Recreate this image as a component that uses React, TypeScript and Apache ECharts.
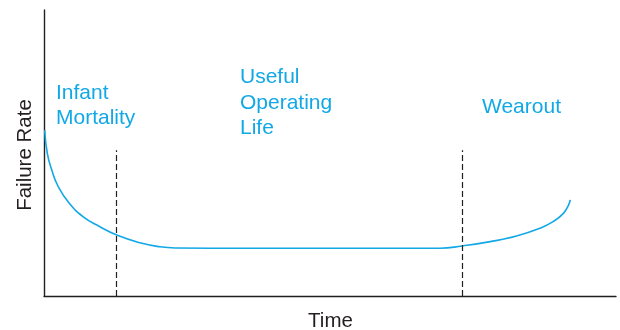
import React, { useEffect, useRef } from "react";
import * as echarts from "echarts";

// Bathtub curve: [time, failure rate] on 0..100 scales
const curvePoints: [number, number][] = [
  [0.12, 58.0],
  [0.58, 49.9],
  [1.35, 44.1],
  [2.5, 38.2],
  [4.42, 32.4],
  [6.87, 27.7],
  [9.79, 24.2],
  [12.71, 21.3],
  [16.78, 18.6],
  [20.28, 17.2],
  [23.2, 16.8],
  [35, 16.7],
  [50, 16.7],
  [62, 16.7],
  [69.2, 16.7],
  [73.1, 17.5],
  [78.0, 19.0],
  [82.6, 21.0],
  [86.7, 23.7],
  [89.0, 26.0],
  [90.8, 28.9],
  [91.7, 31.8],
  [92.0, 33.6],
];

const boundaries = [12.6, 73.1];
const boundaryTop = 51;

const regionLabels = ["Infant\nMortality", "Useful\nOperating\nLife", "Wearout"];
const yTitle = "Failure Rate";
const xTitle = "Time";

const CYAN = "#12a8e6";
const INK = "#231f20";
const FONT = "'Liberation Sans', Arial, Helvetica, sans-serif";

export default function App() {
  const ref = useRef<HTMLDivElement>(null);
  useEffect(() => {
    if (!ref.current) return;
    const chart = echarts.init(ref.current, undefined, { renderer: "svg" });
    chart.setOption({
      animation: false,
      grid: { left: 44, top: 10, right: 4, bottom: 34 },
      xAxis: {
        type: "value",
        min: 0,
        max: 100,
        axisLine: { show: true, lineStyle: { color: INK, width: 1.4 } },
        axisTick: { show: false },
        axisLabel: { show: false },
        splitLine: { show: false },
      },
      yAxis: {
        type: "value",
        min: 0,
        max: 100,
        axisLine: { show: true, lineStyle: { color: INK, width: 1.4 } },
        axisTick: { show: false },
        axisLabel: { show: false },
        splitLine: { show: false },
      },
      series: [
        {
          type: "line",
          data: curvePoints,
          smooth: 0.5,
          showSymbol: false,
          symbol: "none",
          lineStyle: { color: CYAN, width: 1.6 },
          markLine: {
            silent: true,
            symbol: "none",
            label: { show: false },
            lineStyle: { color: INK, width: 1.2, type: [6, 3] },
            data: boundaries.map((b) => [
              { coord: [b, 0] },
              { coord: [b, boundaryTop] },
            ]),
          },
        },
      ],
      graphic: [
        {
          type: "text",
          left: 56,
          top: 79,
          style: { text: regionLabels[0], fill: CYAN, font: `21px ${FONT}`, lineHeight: 25 },
        },
        {
          type: "text",
          left: 240,
          top: 63,
          style: { text: regionLabels[1], fill: CYAN, font: `21px ${FONT}`, lineHeight: 25.5 },
        },
        {
          type: "text",
          left: 482,
          top: 93,
          style: { text: regionLabels[2], fill: CYAN, font: `21px ${FONT}`, lineHeight: 25 },
        },
        {
          type: "text",
          x: 23,
          y: 155,
          rotation: Math.PI / 2,
          style: {
            text: yTitle,
            fill: INK,
            font: `20.5px ${FONT}`,
            align: "center",
            verticalAlign: "middle",
          },
        },
        {
          type: "text",
          x: 330.5,
          y: 319,
          style: {
            text: xTitle,
            fill: INK,
            font: `20.5px ${FONT}`,
            align: "center",
            verticalAlign: "middle",
          },
        },
      ],
    });
    return () => chart.dispose();
  }, []);
  return (
    <div
      ref={ref}
      style={{ position: "fixed", left: 0, top: 0, width: 620, height: 330 }}
    />
  );
}
